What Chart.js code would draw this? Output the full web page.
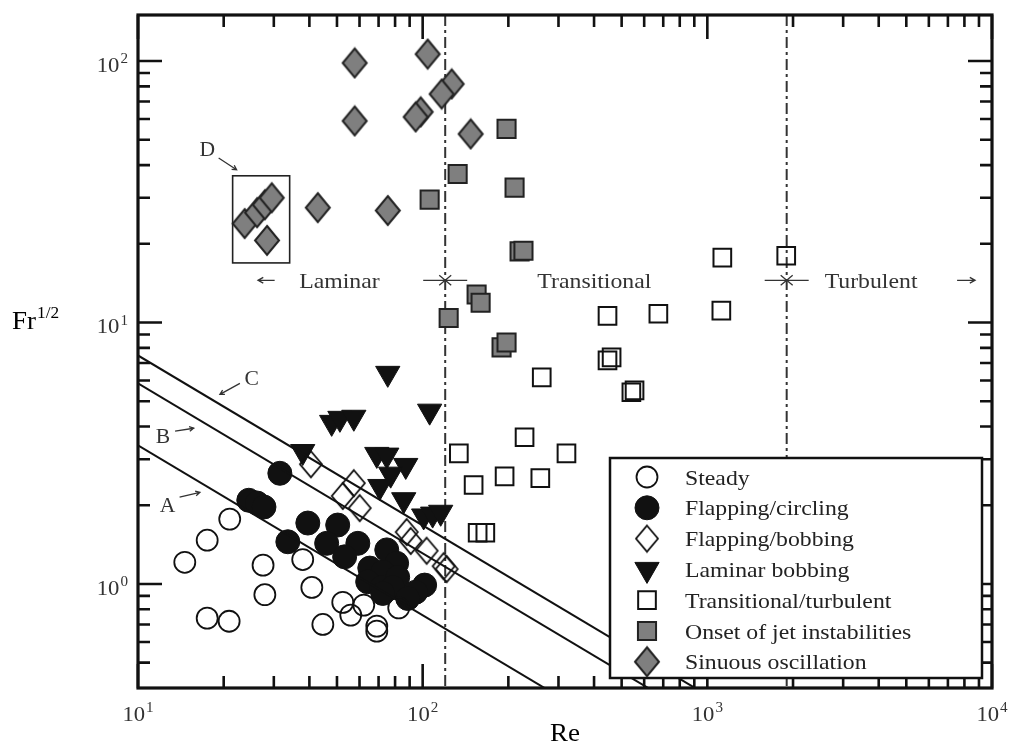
<!DOCTYPE html>
<html>
<head>
<meta charset="utf-8">
<script src="https://cdn.jsdelivr.net/npm/chart.js@4.4.1/dist/chart.umd.min.js"></script>
<style>
  html, body { margin: 0; padding: 0; background: #fff; }
  canvas { display: block; }
</style>
</head>
<body>
<canvas id="chart" width="1009" height="747"></canvas>
<script>
// ---- Re and Fr^1/2 for each observed regime ----
const steadyRe = [14.6, 17.5, 21.0, 27.5, 37.9, 40.8, 27.9, 17.5, 20.9, 44.6, 52.4, 55.9, 62.1, 69.0, 69.0, 82.4];
const steadyFr = [1.21, 1.47, 1.77, 1.18, 1.24, 0.97, 0.91, 0.74, 0.72, 0.70, 0.85, 0.76, 0.83, 0.69, 0.66, 0.81];

const circlingRe = [31.5, 24.5, 26.2, 27.7, 39.5, 50.3, 33.6, 46.0, 59.2, 53.2, 74.8, 81.0, 65.2, 72.4, 81.7, 64.1, 71.8, 78.5, 72.4, 101.6, 94.5, 88.6];
const circlingFr = [2.65, 2.09, 2.04, 1.97, 1.71, 1.68, 1.45, 1.43, 1.43, 1.27, 1.35, 1.20, 1.15, 1.11, 1.06, 1.02, 0.97, 0.97, 0.92, 0.99, 0.93, 0.88];

const bobbingRe = [40.5, 52.4, 57.3, 60.1, 87.9, 90.8, 103.3, 118.5, 121.4];
const bobbingFr = [2.87, 2.17, 2.43, 1.95, 1.58, 1.46, 1.34, 1.17, 1.14];

const laminarRe = [75.4, 105.8, 37.9, 47.9, 51.2, 57.3, 69.0, 74.8, 87.2, 77.2, 70.7, 85.8, 100.8, 108.4, 115.7];
const laminarFr = [6.39, 4.58, 3.21, 4.15, 4.30, 4.34, 3.13, 3.11, 2.84, 2.63, 2.36, 2.10, 1.82, 1.85, 1.88];

const turbulentRe = [1129, 1893, 446, 673, 1120, 446, 461, 262, 541, 555, 228, 134, 320, 194, 259, 151, 156, 166];
const turbulentFr = [17.7, 18.0, 10.6, 10.8, 11.1, 7.16, 7.35, 6.17, 5.41, 5.50, 3.64, 3.16, 3.16, 2.58, 2.54, 2.39, 1.57, 1.57];

const onsetRe = [197.1, 132.7, 210.3, 105.8, 219, 226, 154.7, 159.8, 123.4, 189.3, 197.1];
const onsetFr = [55.0, 37.0, 32.8, 29.5, 18.7, 18.8, 12.8, 11.9, 10.4, 8.03, 8.39];

const sinuousRe = [57.7, 104.1, 126.4, 116.6, 98.4, 94.5, 57.7, 147.4, 42.8, 75.4, 23.7, 26.2, 27.9, 29.5, 28.4];
const sinuousFr = [98.3, 106.3, 81.7, 74.8, 63.9, 61.1, 59.0, 52.6, 27.5, 26.8, 23.9, 26.3, 28.2, 30.0, 20.6];

const seriesNames = ['Steady', 'Flapping/circling', 'Flapping/bobbing', 'Laminar bobbing',
                     'Transitional/turbulent', 'Onset of jet instabilities', 'Sinuous oscillation'];

// ---- criterion lines A, B, C (endpoints at Re = 10 and Re = 1000) ----
const criterionRe = [10, 1000];
const criterionA = [3.39, 0.170];
const criterionB = [5.85, 0.293];
const criterionC = [7.48, 0.375];

// ---- axes ----
const xRange = [10, 10000];
const yRange = [0.4, 150];
const xTickValues = [10, 100, 1000, 10000];
const xTickExp = ['1', '2', '3', '4'];
const yTickValues = [1, 10, 100];
const yTickExp = ['0', '1', '2'];

// ---- flow regimes ----
const regimeBoundsRe = [120, 1900];
const regimeNames = ['Laminar', 'Transitional', 'Turbulent'];
const regimeNameRe = [51, 401, 3760];
const regimeRowFr = 14.5;
const laminarArrowRe = [30.2, 26.4];
const turbulentArrowRe = [7540, 8720];

// ---- lettered annotations ----
const markLetters = ['A', 'B', 'C', 'D'];
const markTextRe = [12.7, 12.24, 25.1, 17.5];
const markTextFr = [2.0, 3.67, 6.11, 46.0];
const markFromRe = [14.0, 13.5, 22.8, 19.2];
const markFromFr = [2.15, 3.84, 5.85, 42.6];
const markToRe = [16.5, 15.7, 19.4, 22.2];
const markToFr = [2.24, 3.94, 5.31, 38.4];
const boxDRe = [21.5, 34.1];
const boxDFr = [16.9, 36.4];

const SERIF = '"Liberation Serif", "Times New Roman", serif';
const GRAY = '#7f7f7f';
const INK = '#111';
const STRETCH = 1.08;

const pts = (xs, ys) => xs.map((x, i) => ({ x, y: ys[i] }));

// diamond marker, slightly taller than wide
function diamond(hw, hh, fill, stroke, lw) {
  const c = document.createElement('canvas');
  c.width = Math.ceil(2 * hw + 2 * lw);
  c.height = Math.ceil(2 * hh + 2 * lw);
  const g = c.getContext('2d');
  const cx = c.width / 2, cy = c.height / 2;
  g.beginPath();
  g.moveTo(cx, cy - hh); g.lineTo(cx + hw, cy); g.lineTo(cx, cy + hh); g.lineTo(cx - hw, cy);
  g.closePath();
  if (fill) { g.fillStyle = fill; g.fill(); }
  g.lineWidth = lw; g.strokeStyle = stroke; g.lineJoin = 'miter'; g.stroke();
  return c;
}
const openDiamond = diamond(11, 13, null, INK, 1.8);
const grayDiamond = diamond(12, 14.5, GRAY, '#222', 2);

const markerStyles = [
  { pointStyle: 'circle', pointRadius: 10.5, backgroundColor: 'rgba(0,0,0,0)', borderColor: INK, borderWidth: 1.8 },
  { pointStyle: 'circle', pointRadius: 12, backgroundColor: INK, borderColor: INK, borderWidth: 1 },
  { pointStyle: openDiamond, pointRadius: 12, backgroundColor: 'rgba(0,0,0,0)', borderColor: INK, borderWidth: 1.8 },
  { pointStyle: 'triangle', rotation: 180, pointRadius: 14, backgroundColor: INK, borderColor: INK, borderWidth: 1 },
  { pointStyle: 'rect', pointRadius: 12.5, backgroundColor: 'rgba(0,0,0,0)', borderColor: INK, borderWidth: 2 },
  { pointStyle: 'rect', pointRadius: 12.8, backgroundColor: GRAY, borderColor: '#222', borderWidth: 2 },
  { pointStyle: grayDiamond, pointRadius: 13, backgroundColor: GRAY, borderColor: '#222', borderWidth: 2 }
];
const seriesData = [
  pts(steadyRe, steadyFr), pts(circlingRe, circlingFr), pts(bobbingRe, bobbingFr),
  pts(laminarRe, laminarFr), pts(turbulentRe, turbulentFr), pts(onsetRe, onsetFr),
  pts(sinuousRe, sinuousFr)
];

const criterionSet = (label, vals) => ({
  type: 'line', label, data: pts(criterionRe, vals), showLine: true,
  borderColor: INK, borderWidth: 2, pointRadius: 0, fill: false, isCriterion: true
});

const datasets = [
  criterionSet('A', criterionA), criterionSet('B', criterionB), criterionSet('C', criterionC),
  ...seriesNames.map((name, i) => {
    const s = markerStyles[i];
    return {
      label: name, data: seriesData[i],
      pointStyle: s.pointStyle, pointRadius: s.pointRadius, pointRotation: s.rotation || 0,
      pointBackgroundColor: s.backgroundColor, pointBorderColor: s.borderColor,
      pointBorderWidth: s.borderWidth, backgroundColor: s.backgroundColor, borderColor: s.borderColor,
      showLine: false
    };
  })
];

// serif text, slightly widened
function text(ctx, s, x, y, size, align, color, sx) {
  ctx.save();
  ctx.translate(x, y);
  ctx.scale(sx || STRETCH, 1);
  ctx.font = size + 'px ' + SERIF;
  ctx.fillStyle = color; ctx.textAlign = align || 'left'; ctx.textBaseline = 'alphabetic';
  ctx.fillText(s, 0, 0);
  ctx.restore();
}
function width(ctx, s, size) {
  ctx.font = size + 'px ' + SERIF;
  return ctx.measureText(s).width * STRETCH;
}
function power(ctx, base, exp, x, y, size, align, color) {
  const es = Math.round(size * 0.66);
  const wb = width(ctx, base, size), we = width(ctx, exp, es);
  const w = wb + we + 1;
  const x0 = align === 'center' ? x - w / 2 : align === 'right' ? x - w : x;
  text(ctx, base, x0, y, size, 'left', color);
  text(ctx, exp, x0 + wb + 1, y - size * 0.42, es, 'left', color);
}
function arrow(ctx, x1, y1, x2, y2, head) {
  const a = Math.atan2(y2 - y1, x2 - x1);
  ctx.beginPath();
  ctx.moveTo(x1, y1); ctx.lineTo(x2, y2);
  ctx.moveTo(x2 - head * Math.cos(a - 0.5), y2 - head * Math.sin(a - 0.5));
  ctx.lineTo(x2, y2);
  ctx.lineTo(x2 - head * Math.cos(a + 0.5), y2 - head * Math.sin(a + 0.5));
  ctx.stroke();
}
function minors(min, max) {
  const out = [];
  for (let e = Math.floor(Math.log10(min)); e <= Math.ceil(Math.log10(max)); e++) {
    for (let m = 2; m <= 9; m++) {
      const v = m * Math.pow(10, e);
      if (v > min * 1.001 && v < max * 0.999) out.push(v);
    }
  }
  return out;
}

const decorations = {
  id: 'decorations',
  beforeDatasetsDraw(chart) {
    const { ctx, chartArea: a, scales: { x } } = chart;
    ctx.save();
    ctx.strokeStyle = '#333'; ctx.lineWidth = 2; ctx.setLineDash([11, 4, 3, 4]);
    regimeBoundsRe.forEach(re => {
      const px = x.getPixelForValue(re);
      ctx.beginPath(); ctx.moveTo(px, a.top); ctx.lineTo(px, a.bottom); ctx.stroke();
    });
    ctx.restore();
  },
  afterDatasetsDraw(chart) {
    const { ctx, chartArea: a, scales: { x, y } } = chart;
    ctx.save();

    // regime names and separators
    const rowY = y.getPixelForValue(regimeRowFr);
    regimeNames.forEach((n, i) => text(ctx, n, x.getPixelForValue(regimeNameRe[i]), rowY + 8, 22, 'center', '#333'));
    ctx.strokeStyle = '#333'; ctx.lineWidth = 1.3;
    arrow(ctx, x.getPixelForValue(laminarArrowRe[0]), rowY, x.getPixelForValue(laminarArrowRe[1]), rowY, 6);
    arrow(ctx, x.getPixelForValue(turbulentArrowRe[0]), rowY, x.getPixelForValue(turbulentArrowRe[1]), rowY, 6);
    regimeBoundsRe.forEach(re => {
      const px = x.getPixelForValue(re);
      ctx.beginPath();
      ctx.moveTo(px - 22, rowY); ctx.lineTo(px + 22, rowY);
      ctx.moveTo(px - 6, rowY - 5); ctx.lineTo(px, rowY); ctx.lineTo(px - 6, rowY + 5);
      ctx.moveTo(px + 6, rowY - 5); ctx.lineTo(px, rowY); ctx.lineTo(px + 6, rowY + 5);
      ctx.stroke();
    });

    // lettered annotations
    markLetters.forEach((l, i) => {
      text(ctx, l, x.getPixelForValue(markTextRe[i]), y.getPixelForValue(markTextFr[i]) + 7, 20, 'center', '#333');
      arrow(ctx, x.getPixelForValue(markFromRe[i]), y.getPixelForValue(markFromFr[i]),
                 x.getPixelForValue(markToRe[i]), y.getPixelForValue(markToFr[i]), 5);
    });
    ctx.lineWidth = 1.6; ctx.strokeStyle = '#222';
    const bx0 = x.getPixelForValue(boxDRe[0]), bx1 = x.getPixelForValue(boxDRe[1]);
    const by0 = y.getPixelForValue(boxDFr[1]), by1 = y.getPixelForValue(boxDFr[0]);
    ctx.strokeRect(bx0, by0, bx1 - bx0, by1 - by0);

    // inward ticks on all four sides
    ctx.strokeStyle = INK; ctx.lineWidth = 2.6;
    const tickX = (v, len) => {
      const px = x.getPixelForValue(v);
      ctx.beginPath();
      ctx.moveTo(px, a.bottom); ctx.lineTo(px, a.bottom - len);
      ctx.moveTo(px, a.top); ctx.lineTo(px, a.top + len);
      ctx.stroke();
    };
    const tickY = (v, len) => {
      const py = y.getPixelForValue(v);
      ctx.beginPath();
      ctx.moveTo(a.left, py); ctx.lineTo(a.left + len, py);
      ctx.moveTo(a.right, py); ctx.lineTo(a.right - len, py);
      ctx.stroke();
    };
    minors(xRange[0], xRange[1]).forEach(v => tickX(v, 12));
    xTickValues.forEach(v => tickX(v, 24));
    minors(yRange[0], yRange[1]).forEach(v => tickY(v, 12));
    yTickValues.forEach(v => tickY(v, 24));

    // frame
    ctx.lineWidth = 3.2;
    ctx.strokeRect(a.left, a.top, a.right - a.left, a.bottom - a.top);

    // tick labels
    xTickValues.forEach((v, i) => power(ctx, '10', xTickExp[i], x.getPixelForValue(v), a.bottom + 33, 21, 'center', '#333'));
    yTickValues.forEach((v, i) => power(ctx, '10', yTickExp[i], a.left - 10, y.getPixelForValue(v) + 11, 21, 'right', '#333'));

    // axis titles
    text(ctx, 'Re', (a.left + a.right) / 2, 741, 25, 'center', '#000');
    text(ctx, 'Fr', 12, 329, 25, 'left', '#000');
    text(ctx, '1/2', 12 + width(ctx, 'Fr', 25) + 1, 318, 16, 'left', '#000');

    // legend
    const lw = 372, lh = 220;
    const lx = a.right - 10 - lw, ly = a.bottom - 10 - lh;
    ctx.fillStyle = '#fff'; ctx.fillRect(lx, ly, lw, lh);
    ctx.lineWidth = 2.5; ctx.strokeStyle = INK; ctx.strokeRect(lx, ly, lw, lh);
    const markers = chart.data.datasets.filter(d => !d.isCriterion);
    markers.forEach((d, i) => {
      const cy = ly + 19 + i * 30.8;
      ctx.fillStyle = d.pointBackgroundColor; ctx.strokeStyle = d.pointBorderColor;
      ctx.lineWidth = d.pointBorderWidth;
      Chart.helpers.drawPoint(ctx, {
        pointStyle: d.pointStyle, radius: d.pointRadius, rotation: d.pointRotation,
        borderWidth: d.pointBorderWidth
      }, lx + 37, cy);
      text(ctx, d.label, lx + 75, cy + 7.5, 22, 'left', '#222');
    });
    ctx.restore();
  }
};

new Chart(document.getElementById('chart'), {
  type: 'scatter',
  data: { datasets },
  options: {
    responsive: false,
    animation: false,
    events: [],
    layout: { padding: { left: 0, right: 17, top: 14, bottom: 0 } },
    plugins: { legend: { display: false }, tooltip: { enabled: false } },
    scales: {
      x: {
        type: 'logarithmic', min: xRange[0], max: xRange[1],
        grid: { display: false, drawTicks: false }, border: { display: false },
        ticks: { display: false },
        afterFit(scale) { scale.height = 59; }
      },
      y: {
        type: 'logarithmic', min: yRange[0], max: yRange[1],
        grid: { display: false, drawTicks: false }, border: { display: false },
        ticks: { display: false },
        afterFit(scale) { scale.width = 138; }
      }
    }
  },
  plugins: [decorations]
});
</script>
</body>
</html>
